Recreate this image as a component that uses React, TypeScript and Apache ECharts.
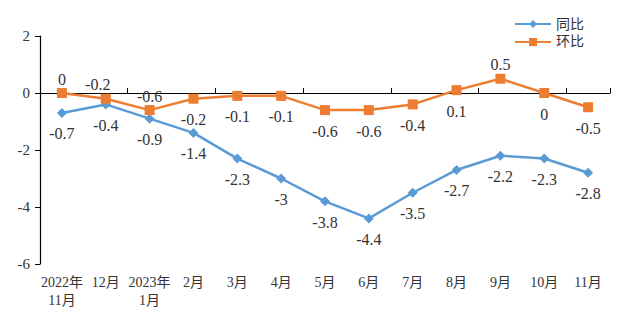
import React, { useEffect, useRef } from "react";
import * as echarts from "echarts";

const categories = ["2022年\n11月", "12月", "2023年\n1月", "2月", "3月", "4月", "5月", "6月", "7月", "8月", "9月", "10月", "11月"];
const yoy = [-0.7, -0.4, -0.9, -1.4, -2.3, -3, -3.8, -4.4, -3.5, -2.7, -2.2, -2.3, -2.8];
const mom = [0, -0.2, -0.6, -0.2, -0.1, -0.1, -0.6, -0.6, -0.4, 0.1, 0.5, 0, -0.5];
const momLabelSide = ["top", "top", "top", "bottom", "bottom", "bottom", "bottom", "bottom", "bottom", "bottom", "top", "bottom", "bottom"];

const BLUE = "#5B9BD5";
const ORANGE = "#ED7D31";
const FONT = "Times New Roman, Tinos, Liberation Serif, DejaVu Serif, Noto Sans CJK SC";
const TXT = "#333333";

export default function App() {
  const ref = useRef<HTMLDivElement>(null);
  useEffect(() => {
    if (!ref.current) return;
    const chart = echarts.init(ref.current, null, { renderer: "svg" });
    chart.setOption({
      animation: false,
      textStyle: { fontFamily: FONT },
      legend: {
        orient: "vertical",
        right: 28,
        top: 12,
        itemWidth: 36,
        itemHeight: 10,
        itemGap: 4,
        textStyle: { fontFamily: FONT, fontSize: 14, color: TXT },
        data: ["同比", "环比"],
      },
      grid: { left: 40, right: 7, top: 36, bottom: 65 },
      xAxis: [
        {
          type: "category",
          data: categories,
          boundaryGap: true,
          axisLine: { onZero: true, lineStyle: { color: "#000", width: 1.2 } },
          axisTick: { show: true, inside: true, length: 5, lineStyle: { color: "#000" } },
          axisLabel: { show: false },
        },
        {
          type: "category",
          data: categories,
          position: "bottom",
          boundaryGap: true,
          axisLine: { show: false, onZero: false },
          axisTick: { show: false },
          axisLabel: { show: true, interval: 0, margin: 9, fontFamily: FONT, fontSize: 14, color: TXT, lineHeight: 18 },
        },
      ],
      yAxis: {
        type: "value",
        min: -6,
        max: 2,
        interval: 2,
        axisLine: { show: true, lineStyle: { color: "#000", width: 1.2 } },
        axisTick: { show: true, length: 5, lineStyle: { color: "#000" } },
        splitLine: { show: false },
        axisLabel: { fontFamily: FONT, fontSize: 15, color: TXT, margin: 10 },
      },
      series: [
        {
          name: "同比",
          type: "line",
          xAxisIndex: 0,
          data: yoy,
          symbol: "diamond",
          symbolSize: 10,
          lineStyle: { color: BLUE, width: 2.5 },
          itemStyle: { color: BLUE },
          label: { show: true, position: "bottom", distance: 8, fontFamily: FONT, fontSize: 16, color: TXT },
          z: 2,
        },
        {
          name: "环比",
          type: "line",
          xAxisIndex: 0,
          data: mom.map((v, i) => ({
            value: v,
            label: {
              position: momLabelSide[i],
              distance: momLabelSide[i] === "top" ? 1 : 8,
              offset: i === 1 ? [-8, 0] : [0, 0],
            },
          })),
          symbol: "rect",
          symbolSize: 10,
          lineStyle: { color: ORANGE, width: 2.5 },
          itemStyle: { color: ORANGE },
          label: { show: true, fontFamily: FONT, fontSize: 16, color: TXT },
          z: 3,
        },
      ],
    });
    return () => chart.dispose();
  }, []);
  return <div ref={ref} style={{ width: 617, height: 329, position: "absolute", left: 0, top: 0 }} />;
}
